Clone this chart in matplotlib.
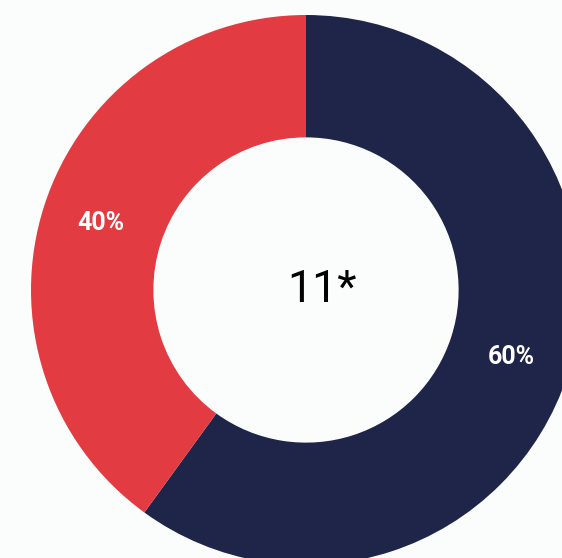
import matplotlib.pyplot as plt

labels = ["60%", "40%"]
shares = [60, 40]
colors = ["#1f2449", "#e23c42"]
center_text = "11*"

fig = plt.figure(figsize=(5.62, 5.58), dpi=100)
fig.patch.set_facecolor("#fbfdfd")
ax = fig.add_axes([0, 0, 1, 1])
ax.set_facecolor("#fbfdfd")

# donut is cropped on right and bottom in the original
cx, cy, r = 306, 558 - 290, 275
wedges, texts = ax.pie(shares, colors=colors, startangle=90, counterclock=False,
	center=(cx, cy), radius=r, labels=labels, labeldistance=0.785,
	wedgeprops=dict(width=r * 0.445, linewidth=0),
	textprops=dict(color="white", fontsize=18, fontweight="bold", family="Roboto",
		ha="center", va="center"))

ax.text(cx + 16, cy, center_text, ha="center", va="center", fontsize=32,
	family="Roboto", color="black")

ax.set_xlim(0, 562)
ax.set_ylim(0, 558)
ax.set_aspect("auto")
ax.axis("off")

plt.savefig("out.png", dpi=100, facecolor=fig.get_facecolor())
